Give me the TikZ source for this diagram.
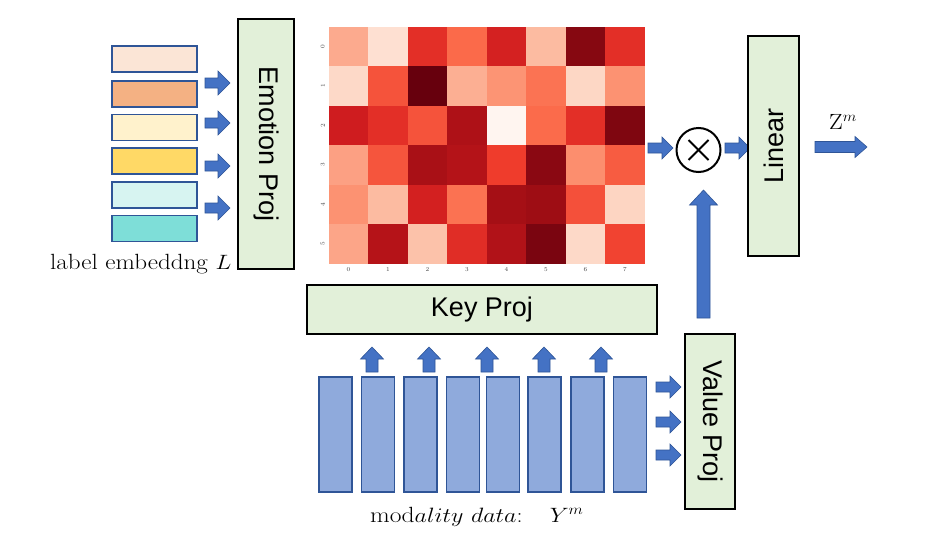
\documentclass[tikz,border=0pt]{standalone}
\usepackage{fontspec}
\newfontfamily\arialf{Liberation Sans}
\usetikzlibrary{calc}
\definecolor{projfill}{HTML}{E2F0D9}
\definecolor{arrfill}{HTML}{4472C4}
\definecolor{arrdraw}{HTML}{2F5597}
\definecolor{colfill}{HTML}{8FAADC}
\definecolor{eA}{HTML}{FBE5D6}
\definecolor{eB}{HTML}{F4B183}
\definecolor{eC}{HTML}{FFF2CC}
\definecolor{eD}{HTML}{FFD966}
\definecolor{eE}{HTML}{D7F4F1}
\definecolor{eF}{HTML}{7EDED8}
\definecolor{ticktext}{HTML}{444444}
\tikzset{
  proj/.style={draw=black, line width=2pt, fill=projfill, inner sep=0pt,
    font=\arialf\fontsize{27}{30}\selectfont},
  emb/.style={draw=arrdraw, line width=1.4pt, minimum width=85pt, minimum height=26pt, inner sep=0pt},
  modcol/.style={draw=arrdraw, line width=1.4pt, fill=colfill, minimum width=33pt, minimum height=115pt, inner sep=0pt},
  tick/.style={text=ticktext, font=\fontsize{6}{7}\selectfont, inner sep=0pt},
  serif22/.style={font=\fontsize{22}{26}\selectfont, inner sep=0pt},
  pics/barr/.style n args={4}{code={
    \filldraw[fill=arrfill, draw=arrdraw, line width=0.6pt]
      (0,-#2) -- ({#1-#4},-#2) -- ({#1-#4},-#3) -- (#1,0) -- ({#1-#4},#3) -- ({#1-#4},#2) -- (0,#2) -- cycle;}}
}
\begin{document}
\begin{tikzpicture}[x=1pt,y=-1pt]
\useasboundingbox (0,0) rectangle (925,541);
\fill[white] (0,0) rectangle (925,541);

% label embeddings
\node[emb, fill=eA] (e1) at (154.5,59) {};
\node[emb, fill=eB] (e2) at (154.5,94) {};
\node[emb, fill=eC] (e3) at (154.5,127.5) {};
\node[emb, fill=eD] (e4) at (154.5,161) {};
\node[emb, fill=eE] (e5) at (154.5,195) {};
\node[emb, fill=eF] (e6) at (154.5,228.5) {};
\node[serif22, anchor=base west] (lbl) at (50,269) {\scalebox{1.14}[1]{label embeddng $L$}};

% emotion proj
\node[proj, minimum width=56pt, minimum height=250pt] (emotion) at (266,144) {};
\node[rotate=-90, font=\arialf\fontsize{27}{30}\selectfont, inner sep=0pt] (emotiontxt) at (emotion.center) {Emotion Proj};

\foreach \yy in {83,123,166,208} {
  \pic at (205,\yy) {barr={25}{5}{12}{12}};
}

% heatmap
\node[minimum width=316pt, minimum height=237pt, inner sep=0pt] (heat) at (487,145.5) {};
\foreach \r/\c/\h in {
 0/0/FCAA8E,0/1/FEE0D2,0/2/E32F27,0/3/FB6A4A,0/4/D42121,0/5/FCBBA1,0/6/860811,0/7/E32F27,
 1/0/FDD9C8,1/1/F5533B,1/2/67000D,1/3/FCAF93,1/4/FC9474,1/5/FB7353,1/6/FDD7C5,1/7/FC9272,
 2/0/CF1C1F,2/1/E32F27,2/2/F5533B,2/3/AE1117,2/4/FFF5F0,2/5/FB6B4B,2/6/E32F27,2/7/7F0610,
 3/0/FCA083,3/1/F5553D,3/2/A91016,3/3/B41318,3/4/EF3C2C,3/5/8A0812,3/6/FC8E6E,3/7/F75C41,
 4/0/FC9272,4/1/FCBBA1,4/2/D32020,4/3/FB7252,4/4/A50F15,4/5/9E0D14,4/6/F4503A,4/7/FDD5C2,
 5/0/FCA588,5/1/B51318,5/2/FCC2AA,5/3/E02D26,5/4/B11218,5/5/7A0510,5/6/FDD9C8,5/7/F14331} {
  \definecolor{cellc}{HTML}{\h}
  \fill[cellc] ($(heat.north west)+(\c*39.5,\r*39.5)$) rectangle ++(39.5,39.5);
}
\foreach \i in {0,...,7} {
  \node[tick] at ($(heat.south west)+(\i*39.5+19.75,5)$) {\i};
}
\foreach \j in {0,...,5} {
  \node[tick, rotate=90] at ($(heat.north west)+(-6,\j*39.5+19.75)$) {\j};
}

% multiply
\node[draw=black, line width=2pt, circle, minimum size=44pt, inner sep=0pt] (mult) at (698.5,150) {};
\draw[line width=2pt] ($(mult.center)+(-10,-10)$) -- ($(mult.center)+(10,10)$);
\draw[line width=2pt] ($(mult.center)+(-10,10)$) -- ($(mult.center)+(10,-10)$);

\pic at (648,148) {barr={25}{5}{11}{11}};
\pic at (725,148) {barr={25}{5}{11}{11}};

% linear
\node[proj, minimum width=51pt, minimum height=220pt] (linear) at (773.5,146) {};
\node[rotate=90, font=\arialf\fontsize{27}{30}\selectfont, inner sep=0pt] (lineartxt) at (linear.center) {Linear};

\pic at (815,147) {barr={52}{5.5}{10.5}{12}};
\node[serif22, anchor=base] (zm) at (843,129) {\scalebox{1.1}[1]{$\mathrm{Z}^{m}$}};

% key proj
\node[proj, minimum width=350pt, minimum height=49pt] (key) at (482,309.5) {Key Proj};

% value proj
\node[proj, minimum width=50pt, minimum height=175pt] (value) at (710,421.5) {};
\node[rotate=-90, font=\arialf\fontsize{27}{30}\selectfont, inner sep=0pt] (valuetxt) at (value.center) {Value Proj};

\pic[rotate=90] at (703.5,318) {barr={128}{6.5}{14}{15}};

% modality columns
\foreach \xx [count=\k] in {335.5,378,420.5,463,503,544.5,587.5,630} {
  \node[modcol] (col\k) at (\xx,434.5) {};
}
\foreach \xx in {372,429,487,544,601} {
  \pic[rotate=90] at (\xx,372) {barr={25}{6}{11.5}{12}};
}
\foreach \yy in {387,422,455} {
  \pic at (656,\yy) {barr={25}{5}{11}{11}};
}
\node[serif22, anchor=base west] (modlbl) at (370,522) {\scalebox{1.16}[1]{$\mathrm{mod}ality\ data\colon\ \ \ Y^{m}$}};
\end{tikzpicture}
\end{document}
